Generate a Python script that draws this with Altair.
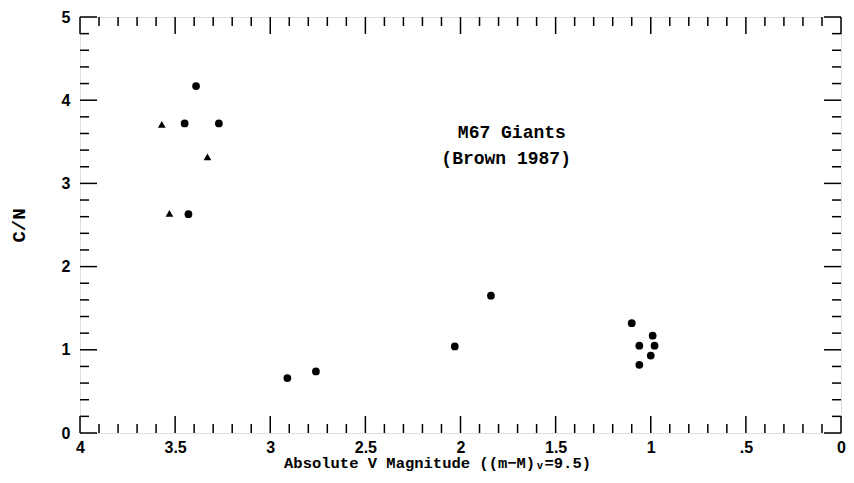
import altair as alt
import pandas as pd

# ---- data ----
circle_x = [3.39, 3.45, 3.27, 3.43, 2.91, 2.76, 2.03, 1.84, 1.10, 0.99, 1.06, 0.98, 1.00, 1.06]
circle_y = [4.17, 3.72, 3.72, 2.63, 0.66, 0.74, 1.04, 1.65, 1.32, 1.17, 1.05, 1.05, 0.93, 0.82]
triangle_x = [3.57, 3.33, 3.53]
triangle_y = [3.71, 3.32, 2.64]

x_major = [4, 3.5, 3, 2.5, 2, 1.5, 1, 0.5, 0]
x_minor = [round(i / 10, 1) for i in range(0, 41) if i % 5 != 0]
y_major = [0, 1, 2, 3, 4, 5]
y_minor = [round(i / 10, 1) for i in range(2, 50, 2) if i % 10 != 0]

note_lines = ["M67 Giants", "(Brown 1987)"]
note_x = [1.73, 1.76]
note_y = [3.60, 3.29]

W, H = 761, 416
MAJ, MIN = 17, 9

xs = alt.Scale(domain=[0, 4], reverse=True, nice=False, zero=False)
ys = alt.Scale(domain=[0, 5], nice=False, zero=False)

pts = pd.DataFrame({
    "mag": circle_x + triangle_x,
    "cn": circle_y + triangle_y,
    "kind": ["circle"] * len(circle_x) + ["triangle"] * len(triangle_x),
})

x_axis = alt.Axis(
    values=x_major, ticks=False, domain=False, grid=False,
    labelExpr="datum.value == 0.5 ? '.5' : format(datum.value, '~g')",
    labelFont="Liberation Sans", labelFontWeight="bold", labelFontSize=16,
    labelColor="black", labelPadding=6, labelFlush=False, labelOverlap=False,
    title="Absolute V Magnitude ((m\u2212M)\u1d65=9.5)",
    titleFont="Liberation Mono", titleFontSize=15.5, titleFontWeight="bold",
    titleColor="black", titleX=357, titleY=34, titleBaseline="alphabetic",
)
y_axis = alt.Axis(
    values=y_major, ticks=False, domain=False, grid=False,
    labelFont="Liberation Sans", labelFontWeight="bold", labelFontSize=16,
    labelColor="black", labelPadding=10, labelFlush=False, labelOverlap=False,
    title="C/N", titleFont="Liberation Mono", titleFontSize=19,
    titleFontWeight="bold", titleColor="black", titleAngle=270,
    titleX=-62, titleY=H / 2, titleAlign="center", titleBaseline="middle",
)

points = alt.Chart(pts).mark_point(filled=True, color="black", opacity=1, size=60).encode(
    x=alt.X("mag:Q", scale=xs, axis=x_axis),
    y=alt.Y("cn:Q", scale=ys, axis=y_axis),
    shape=alt.Shape("kind:N", scale=alt.Scale(domain=["circle", "triangle"],
                                              range=["circle", "triangle-up"]), legend=None),
)

def xticks(vals, length, top):
    df = pd.DataFrame({"v": vals})
    if top:
        yv, y2v = alt.value(0), alt.value(length)
    else:
        yv, y2v = alt.value(H), alt.value(H - length)
    return alt.Chart(df).mark_rule(color="black", strokeWidth=1.5).encode(
        x=alt.X("v:Q", scale=xs, axis=x_axis), y=yv, y2=y2v)

def yticks(vals, length, right):
    df = pd.DataFrame({"v": vals})
    if right:
        xv, x2v = alt.value(W), alt.value(W - length)
    else:
        xv, x2v = alt.value(0), alt.value(length)
    return alt.Chart(df).mark_rule(color="black", strokeWidth=1.5).encode(
        y=alt.Y("v:Q", scale=ys, axis=y_axis), x=xv, x2=x2v)

ticks = [
    xticks(x_major, MAJ, False), xticks(x_minor, MIN, False),
    xticks(x_major, MAJ, True), xticks(x_minor, MIN, True),
    yticks(y_major, MAJ, False), yticks(y_minor, MIN, False),
    yticks(y_major, MAJ, True), yticks(y_minor, MIN, True),
]

notes = alt.Chart(pd.DataFrame({"t": note_lines, "x": note_x, "y": note_y})).mark_text(
    font="Liberation Mono", fontSize=18, fontWeight="bold", color="black",
    align="center", baseline="middle"
).encode(
    x=alt.X("x:Q", scale=xs, axis=x_axis), y=alt.Y("y:Q", scale=ys, axis=y_axis), text="t:N"
)

chart = alt.layer(points, *ticks, notes).properties(
    width=W, height=H,
    autosize=alt.AutoSizeParams(type="none"),
    padding={"left": 72, "top": 9, "right": 5, "bottom": 40},
).configure_view(stroke="black", strokeWidth=2).configure(background="white")

chart.save("out.html", embed_options={"renderer": "svg", "actions": False})
